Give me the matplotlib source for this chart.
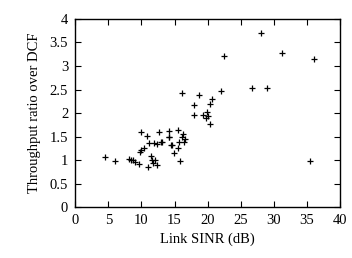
import matplotlib
matplotlib.use('Agg')
import matplotlib.pyplot as plt

# link SINR (dB) vs throughput ratio over DCF
sinr = [4.5, 6.0, 8.1, 8.5, 8.8, 9.0, 9.6, 9.9, 10.9, 12.7, 14.2, 15.6, 16.3,
        10.0, 10.4, 9.85, 11.2, 11.9, 12.3, 12.9, 14.1, 14.6, 14.9, 15.6,
        15.9, 15.7, 16.4, 16.6, 16.2, 11.4, 11.55, 12.05, 11.05, 12.3, 11.8,
        13.1, 14.4, 14.2,
        16.1, 17.9, 17.9, 18.75, 19.35, 19.9, 20.1, 19.75, 20.4, 20.4, 20.7,
        22.0, 22.4, 26.7, 28.0, 28.9, 31.3, 36.0, 35.5]
ratio = [1.08, 0.99, 1.02, 1.0, 1.01, 0.97, 0.92, 1.6, 1.51, 1.59, 1.63, 1.65, 1.55,
         1.22, 1.27, 1.18, 1.36, 1.37, 1.34, 1.39, 1.5, 1.32, 1.15, 1.25,
         0.99, 1.39, 1.39, 1.46, 1.5, 1.1, 1.0, 1.0, 0.86, 0.9, 0.94,
         1.39, 1.32, 1.5,
         2.42, 2.17, 1.96, 2.38, 1.97, 2.02, 1.94, 1.9, 2.19, 1.77, 2.3,
         2.47, 3.21, 2.54, 3.69, 2.54, 3.27, 3.15, 0.99]

xticks = [0, 5, 10, 15, 20, 25, 30, 35, 40]
yticks = [0, 0.5, 1, 1.5, 2, 2.5, 3, 3.5, 4]
yticklabels = ['0', '0.5', '1', '1.5', '2', '2.5', '3', '3.5', '4']

plt.rcParams['font.family'] = ['Liberation Serif', 'DejaVu Serif']
plt.rcParams['font.size'] = 10.5

fig = plt.figure(figsize=(3.52, 2.58), dpi=100)
ax = fig.add_axes([0.2136, 0.196, 0.7524, 0.731])
ax.plot(sinr, ratio, linestyle='none', marker='+', markersize=5,
        markeredgewidth=0.9, color='black')

ax.set_xlim(0, 40)
ax.set_ylim(0, 4)
ax.set_xticks(xticks)
ax.set_yticks(yticks)
ax.set_yticklabels(yticklabels)
ax.tick_params(direction='in', length=4, width=0.8, top=True, right=True,
               pad=5)
for s in ax.spines.values():
    s.set_linewidth(1.0)
ax.set_xlabel('Link SINR (dB)', labelpad=4)
ax.set_ylabel('Throughput ratio over DCF', labelpad=6)

plt.savefig('out.png', dpi=100)
